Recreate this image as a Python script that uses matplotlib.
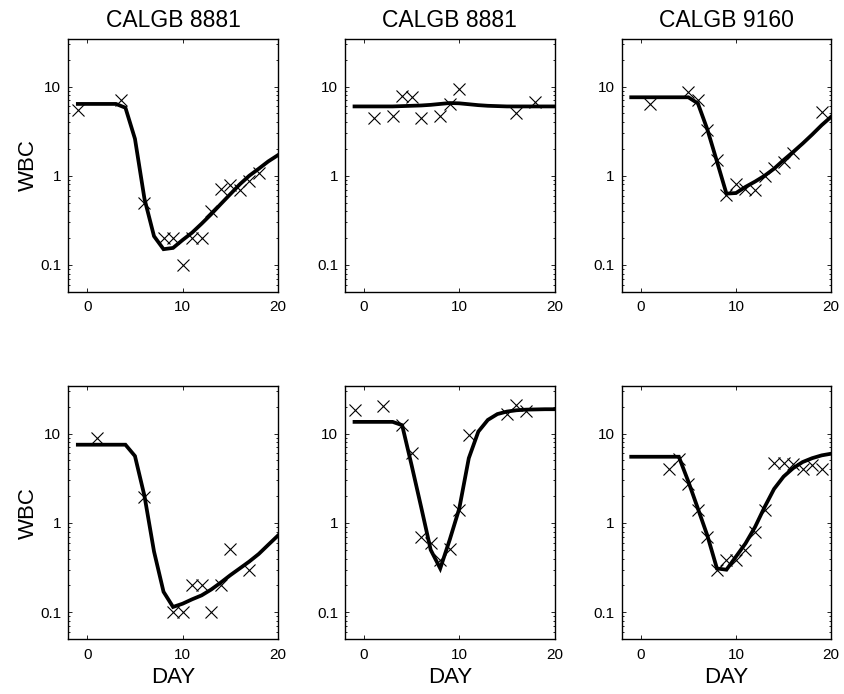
import numpy as np
import matplotlib.pyplot as plt
from matplotlib.ticker import FixedLocator, FixedFormatter, LogLocator, NullFormatter

plt.rcParams['font.family'] = ['Liberation Sans', 'DejaVu Sans']

titles = ['CALGB 8881', 'CALGB 8881', 'CALGB 9160']

# model curves, evaluated on whole days -1..20
curve_days = list(range(-1, 21))
curves = [
    [6.4, 6.4, 6.4, 6.4, 6.4, 5.8, 2.6, 0.55, 0.21, 0.15, 0.155, 0.19, 0.23, 0.29,
     0.37, 0.48, 0.62, 0.80, 1.0, 1.2, 1.45, 1.7],
    [6.0, 6.0, 6.0, 6.0, 6.0, 6.05, 6.1, 6.15, 6.25, 6.4, 6.55, 6.5, 6.35, 6.2,
     6.1, 6.05, 6.0, 6.0, 6.0, 6.0, 6.0, 6.0],
    [7.6, 7.6, 7.6, 7.6, 7.6, 7.6, 7.6, 6.5, 3.3, 1.45, 0.63, 0.64, 0.75, 0.86,
     1.0, 1.2, 1.5, 1.85, 2.3, 2.9, 3.7, 4.6],
    [7.5, 7.5, 7.5, 7.5, 7.5, 7.5, 5.6, 2.0, 0.48, 0.17, 0.115, 0.125, 0.14, 0.155,
     0.18, 0.215, 0.26, 0.31, 0.37, 0.45, 0.57, 0.72],
    [13.5, 13.5, 13.5, 13.5, 13.5, 12.4, 4.4, 1.5, 0.5, 0.31, 0.65, 1.45, 5.3, 10.5,
     14.2, 16.5, 17.6, 18.2, 18.5, 18.6, 18.7, 18.7],
    [5.5, 5.5, 5.5, 5.5, 5.5, 5.5, 2.9, 1.45, 0.72, 0.31, 0.30, 0.42, 0.59, 0.9,
     1.5, 2.4, 3.3, 4.1, 4.8, 5.3, 5.7, 5.95],
]

# measured WBC
obs_days = [
    [-1, 3.5, 6, 8, 9, 10, 11, 12, 13, 14, 15, 16, 17, 18],
    [1, 3, 4, 5, 6, 8, 9, 10, 16, 18],
    [1, 5, 6, 7, 8, 9, 10, 11, 12, 13, 14, 15, 16, 19],
    [1, 6, 9, 10, 11, 12, 13, 14, 15, 17],
    [-1, 2, 4, 5, 6, 7, 8, 9, 10, 11, 15, 16, 17],
    [3, 4, 5, 6, 7, 8, 9, 10, 11, 12, 13, 14, 15, 16, 17, 18, 19],
]
obs_wbc = [
    [5.5, 7.1, 0.50, 0.20, 0.20, 0.10, 0.20, 0.20, 0.40, 0.71, 0.79, 0.70, 0.88, 1.08],
    [4.5, 4.7, 7.85, 7.7, 4.4, 4.7, 6.4, 9.3, 5.0, 6.8],
    [6.4, 8.8, 7.1, 3.3, 1.5, 0.61, 0.80, 0.71, 0.70, 1.0, 1.21, 1.44, 1.82, 5.25],
    [9.0, 1.93, 0.10, 0.10, 0.20, 0.20, 0.10, 0.20, 0.51, 0.30],
    [18.5, 20.2, 12.6, 6.1, 0.70, 0.59, 0.39, 0.51, 1.41, 9.6, 16.7, 21.0, 18.0],
    [4.06, 5.2, 2.76, 1.39, 0.70, 0.30, 0.39, 0.39, 0.50, 0.80, 1.40, 4.7, 4.7, 4.6,
     4.06, 4.5, 4.06],
]

fig = plt.figure(figsize=(8.44, 6.94), dpi=100)
W, H = 844, 694
lefts = [68.3, 345, 621.7]
width = 209.5
rows = [(39.3, 291.7), (386, 639.3)]

for k in range(6):
    r, c = divmod(k, 3)
    top, bot = rows[r]
    ax = fig.add_axes([lefts[c] / W, 1 - bot / H, width / W, (bot - top) / H])
    ax.plot(curve_days, curves[k], color='black', lw=2.7, solid_joinstyle='miter')
    ax.plot(obs_days[k], obs_wbc[k], ls='none', marker='x', ms=8, mew=0.8,
            color='black')
    ax.set_yscale('log')
    ax.set_xlim(-2, 20)
    ax.set_ylim(0.05, 34)
    ax.xaxis.set_major_locator(FixedLocator([0, 10, 20]))
    ax.yaxis.set_major_locator(FixedLocator([0.1, 1, 10]))
    ax.yaxis.set_major_formatter(FixedFormatter(['0.1', '1', '10']))
    ax.yaxis.set_minor_locator(LogLocator(base=10, subs=np.arange(2, 10)))
    ax.yaxis.set_minor_formatter(NullFormatter())
    ax.tick_params(which='both', direction='in', top=True, right=True,
                   labelsize=11, width=0.6, pad=6)
    ax.tick_params(axis='y', which='major', pad=5)
    ax.tick_params(which='major', length=3)
    ax.tick_params(which='minor', length=1.5)
    for s in ax.spines.values():
        s.set_linewidth(1.0)
    if r == 0:
        ax.set_title(titles[c], fontsize=16.5, pad=9)
    if c == 0:
        ax.set_ylabel('WBC', fontsize=16, labelpad=1)
    if r == 1:
        ax.set_xlabel('DAY', fontsize=16, labelpad=4)

fig.savefig('out.png', dpi=100)
